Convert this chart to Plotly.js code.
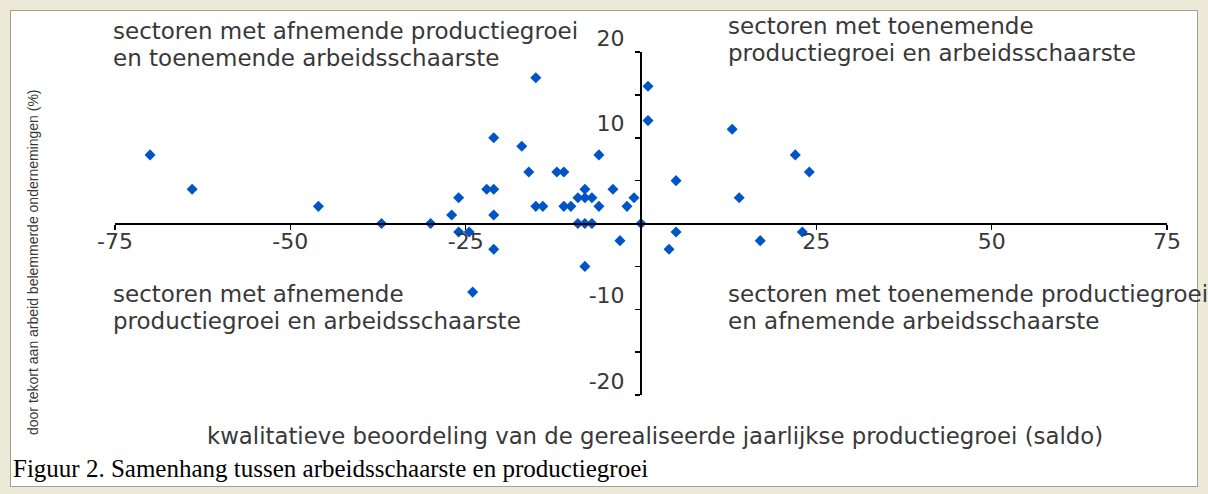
<!DOCTYPE html>
<html>
<head>
<meta charset="utf-8">
<script src="https://cdn.plot.ly/plotly-3.0.1.min.js"></script>
<style>
  html, body { margin:0; padding:0; width:1208px; height:494px; overflow:hidden; background:#ECE9D8; }
  #frame { position:absolute; left:10px; top:10px; width:1188px; height:477px; background:#ffffff; border:1px solid #A5A291; box-sizing:border-box; }
  #chart { position:absolute; left:0; top:0; width:1208px; height:494px; }
</style>
</head>
<body>
<div id="frame"></div>
<div id="chart"></div>
<script>
// productiegroei (saldo) — x values
const productiegroei = [-70,-64,-46,-37,-30,-27,-26,-22,-21,-21,-26,-24.5,-21,-24,-21,-17,-15,-16,-12,-11,-15,-14,-11,-10,-8,-9,-8,-7,-6,-6,-4,-9,-8,-7,-8,-3,-2,-1,0,1,1,5,5,4,13,14,17,22,24,23];
// belemmerde ondernemingen (%) — y values
const arbeidsschaarste = [8,4,2,0,0,1,3,4,4,1,-1,-1,-3,-8,10,9,17,6,6,6,2,2,2,2,4,3,3,3,2,8,4,0,0,0,-5,-2,2,3,0,16,12,5,-1,-3,11,3,-2,8,6,-1];

const xTickVals = [-75,-50,-25,25,50,75];
const xTickText = ['-75','-50','-25','25','50','75'];
const yTickVals = [-20,-15,-10,-5,5,10,15,20];
const yTickText = ['-20','','-10','','','10','','20'];

const quadrantTexts = {
  tl: ['sectoren met afnemende productiegroei', 'en toenemende arbeidsschaarste'],
  tr: ['sectoren met toenemende', 'productiegroei en arbeidsschaarste'],
  bl: ['sectoren met afnemende', 'productiegroei en arbeidsschaarste'],
  br: ['sectoren met toenemende productiegroei', 'en afnemende arbeidsschaarste']
};
const xTitle = 'kwalitatieve beoordeling van de gerealiseerde jaarlijkse productiegroei (saldo)';
const yTitle = 'door tekort aan arbeid belemmerde ondernemingen (%)';
const caption = 'Figuur 2. Samenhang tussen arbeidsschaarste en productiegroei';

const W = 1208, H = 494, ML = 115, MR = 41, MT = 52, MB = 99;
const PW = W - ML - MR, PH = H - MT - MB;
const px = v => (v - ML) / PW;          // pixel -> paper x
const py = v => (H - MB - v) / PH;      // pixel -> paper y

const TXT = '#383838';
const SANS = 'DejaVu Sans, Verdana, sans-serif';

function ann(text, xPix, yPix, size, opts) {
  return Object.assign({
    text: text, xref: 'paper', yref: 'paper', x: px(xPix), y: py(yPix),
    xanchor: 'left', yanchor: 'middle', showarrow: false, align: 'left',
    font: {family: SANS, size: size, color: TXT}
  }, opts || {});
}
// two-line block: glyphs at 23px, line pitch from the 21px base font (21*1.3 ≈ 27px)
function block(lines, xPix, yPix) {
  const t = lines.map(l => '<span style="font-size:23px">' + l + '</span>').join('<br>');
  return ann(t, xPix, yPix, 21);
}

const annotations = [
  block(quadrantTexts.tl, 111, 44),
  block(quadrantTexts.tr, 726, 40),
  block(quadrantTexts.bl, 111, 307),
  block(quadrantTexts.br, 726, 307),
  ann(xTitle, 655, 436, 22.8, {xanchor: 'center'}),
  ann(yTitle, 33, 262, 14, {xanchor: 'center', textangle: -90, font: {family: 'Liberation Sans, Arial, sans-serif', size: 14, color: TXT}}),
  ann(caption, 11, 468, 25, {font: {family: 'Liberation Serif, Times New Roman, serif', size: 25, color: '#000'}})
];

const trace = {
  type: 'scatter', mode: 'markers',
  x: productiegroei, y: arbeidsschaarste,
  marker: {symbol: 'diamond', size: 8.5, color: '#0055C6', line: {width: 0}},
  hoverinfo: 'x+y'
};

const axisCommon = {
  anchor: 'free', position: 0.5, showline: true, linecolor: '#000', linewidth: 2,
  ticks: 'outside', ticklen: 5, tickwidth: 1.5, tickcolor: '#000',
  showgrid: false, zeroline: false, fixedrange: true,
  tickfont: {family: SANS, size: 22, color: TXT}
};

const layout = {
  width: W, height: H,
  margin: {l: ML, r: MR, t: MT, b: MB, pad: 0},
  paper_bgcolor: 'rgba(0,0,0,0)', plot_bgcolor: 'rgba(0,0,0,0)',
  showlegend: false,
  xaxis: Object.assign({}, axisCommon, {range: [-75, 75], tickmode: 'array', tickvals: xTickVals, ticktext: xTickText, ticklabelstandoff: -7}),
  yaxis: Object.assign({}, axisCommon, {range: [-20, 20], tickmode: 'array', tickvals: yTickVals, ticktext: yTickText, ticklabelshift: -14, ticklabelstandoff: 6}),
  annotations: annotations
};

Plotly.newPlot('chart', [trace], layout, {displayModeBar: false, staticPlot: true});
</script>
</body>
</html>
